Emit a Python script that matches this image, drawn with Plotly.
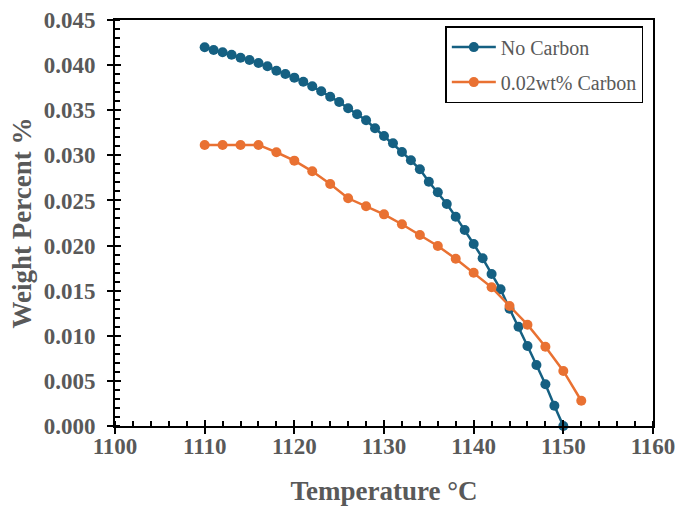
import plotly.graph_objects as go

# Dissolved weight percent vs. temperature
temp_no_carbon = list(range(1110, 1151))
wt_no_carbon = [
    0.04198, 0.04168, 0.04142, 0.04115, 0.04082, 0.04057, 0.04024, 0.03987,
    0.03938, 0.03902, 0.03861, 0.03816, 0.03765, 0.03710, 0.03650, 0.03591,
    0.03521, 0.03455, 0.03388, 0.03300, 0.03214, 0.03133, 0.03037, 0.02945,
    0.02845, 0.02708, 0.02590, 0.02461, 0.02320, 0.02172, 0.02017, 0.01859,
    0.01685, 0.01515, 0.01300, 0.01101, 0.00887, 0.00676, 0.00462, 0.00225,
    0.00000,
]

temp_carbon = list(range(1110, 1153, 2))
wt_carbon = [
    0.03115, 0.03115, 0.03115, 0.03115, 0.03034, 0.02941, 0.02823, 0.02682,
    0.02524, 0.02435, 0.02346, 0.02236, 0.02117, 0.01995, 0.01854, 0.01699,
    0.01537, 0.01330, 0.01123, 0.00879, 0.00610, 0.00280,
]

BLUE = "#156082"
ORANGE = "#E97132"
GRAY = "#595959"
FONT = "Liberation Serif"

fig = go.Figure()
fig.add_trace(go.Scatter(
    x=temp_no_carbon, y=wt_no_carbon, mode="lines+markers", name="No Carbon",
    line=dict(color=BLUE, width=2.5), marker=dict(color=BLUE, size=10),
    cliponaxis=False, legendgroup="a",
))
fig.add_trace(go.Scatter(
    x=temp_carbon, y=wt_carbon, mode="lines+markers", name="0.02wt% Carbon",
    line=dict(color=ORANGE, width=2.5), marker=dict(color=ORANGE, size=10),
    cliponaxis=False, legendgroup="b",
))
# empty trace so the overlay axes (inner half of the major ticks) are drawn
fig.add_trace(go.Scatter(x=[None], y=[None], xaxis="x2", yaxis="y2",
                         showlegend=False, hoverinfo="skip"))

tick_font = dict(family=FONT, size=23, color=GRAY)
title_font = dict(family=FONT, size=27, color=GRAY)

fig.update_layout(
    width=681, height=508,
    margin=dict(l=115, r=28, t=20, b=82),
    plot_bgcolor="white", paper_bgcolor="white",
    xaxis=dict(
        range=[1100, 1160], dtick=10, tick0=1100,
        showgrid=False, zeroline=False, automargin=False,
        showline=True, linecolor="black", linewidth=2, mirror=True,
        ticks="outside", ticklen=6, tickwidth=2, tickcolor="black",
        minor=dict(ticks="inside", ticklen=5, tickwidth=1.5, dtick=2,
                   tickcolor="black", showgrid=False),
        tickfont=tick_font, ticklabelstandoff=-8,
        title=dict(text="<b>Temperature °C</b>", font=title_font, standoff=24),
        tickprefix="<b>", ticksuffix="</b>",
    ),
    yaxis=dict(
        range=[0, 0.045], dtick=0.005, tick0=0, tickformat=".3f",
        showgrid=False, zeroline=False, automargin=False,
        showline=True, linecolor="black", linewidth=2, mirror=True,
        ticks="outside", ticklen=6, tickwidth=2, tickcolor="black",
        minor=dict(ticks="inside", ticklen=5, tickwidth=1.5, dtick=0.001,
                   tickcolor="black", showgrid=False),
        tickfont=tick_font, ticklabelstandoff=7,
        title=dict(text="<b>Weight Percent %</b>", font=title_font, standoff=4),
        tickprefix="<b>", ticksuffix="</b>",
    ),
    xaxis2=dict(
        overlaying="x", matches="x", anchor="y2", side="bottom",
        range=[1100, 1160], dtick=10, tick0=1100,
        showgrid=False, zeroline=False, showline=False,
        ticks="inside", ticklen=6, tickwidth=2, tickcolor="black",
        showticklabels=False,
    ),
    yaxis2=dict(
        overlaying="y", matches="y", anchor="x2", side="left",
        range=[0, 0.045], dtick=0.005, tick0=0,
        showgrid=False, zeroline=False, showline=False,
        ticks="inside", ticklen=6, tickwidth=2, tickcolor="black",
        showticklabels=False,
    ),
    legend=dict(
        x=0.614, y=0.985, xanchor="left", yanchor="top",
        bgcolor="white", bordercolor="black", borderwidth=1.5,
        font=dict(family=FONT, size=20, color=GRAY),
        tracegroupgap=6, itemwidth=44,
    ),
    showlegend=True,
)

fig.write_html("out.html")
